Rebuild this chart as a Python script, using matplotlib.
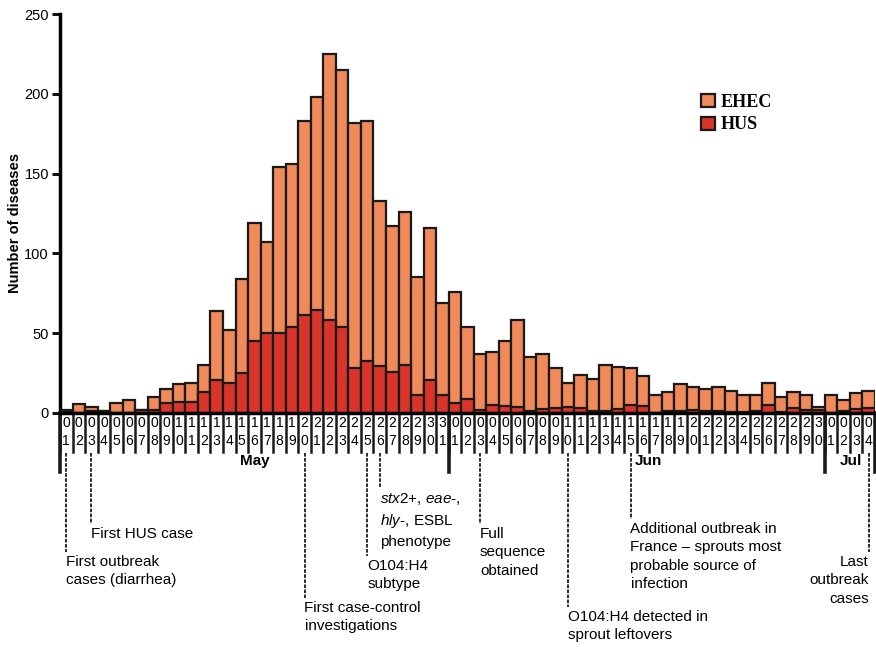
import numpy as np
import matplotlib.pyplot as plt
from matplotlib.patches import Patch
from matplotlib.transforms import blended_transform_factory

plt.rcParams['font.family'] = ['Liberation Sans', 'DejaVu Sans']
plt.rcParams['mathtext.fontset'] = 'custom'
plt.rcParams['mathtext.rm'] = 'Liberation Sans'
plt.rcParams['mathtext.it'] = 'Liberation Sans:italic'
plt.rcParams['mathtext.bf'] = 'Liberation Sans:bold'

# days May 1 .. Jul 4 (2011)
months = ['May', 'Jun', 'Jul']
month_lengths = [31, 30, 4]
days = [d for n in month_lengths for d in range(1, n + 1)]

ehec = [2, 5.5, 4, 1.5, 6.5, 8, 2, 10, 15, 18, 19, 30, 64, 52, 84, 119,
        107, 154, 156, 183, 198, 225, 215, 182, 183, 133, 117, 126, 85, 116, 69,
        76, 54, 37, 38, 45, 58, 35, 37, 28, 19, 24, 21, 30, 29, 28, 23,
        11, 13, 18, 16, 15, 16.5, 13.5, 11.5, 11.5, 18.5, 10, 13, 11, 4,
        11.5, 8, 12.5, 13.5]
hus = [1, 0, 1, 1, 0, 0, 2, 2, 6.5, 7, 7, 13, 20.5, 18.5, 25, 45,
       50, 50, 54, 61.5, 64.5, 58.5, 54, 28.5, 32.5, 29.5, 26, 30, 11.5, 20.5, 11.5,
       6.5, 9, 2, 5, 4.5, 3.5, 1.5, 2.5, 3, 3.5, 3, 1.5, 1.5, 2.5, 5, 4.5,
       0, 1, 1, 2, 1.5, 1.5, 0.5, 0.5, 1.5, 5, 0.5, 3, 2, 2,
       0, 1.5, 2.5, 3]

# timeline events: (day index, text)
events = [
    (0, 'First outbreak\ncases (diarrhea)'),
    (2, 'First HUS case'),
    (19, 'First case-control\ninvestigations'),
    (24, 'O104:H4\nsubtype'),
    (25, r'$\mathit{stx2}$+, $\mathit{eae}$-,' + '\n' + r'$\mathit{hly}$-, ESBL' + '\nphenotype'),
    (33, 'Full\nsequence\nobtained'),
    (40, 'O104:H4 detected in\nsprout leftovers'),
    (45, 'Additional outbreak in\nFrance \u2013 sprouts most\nprobable source of\ninfection'),
    (64, 'Last\noutbreak\ncases'),
]
event_line_end = [552, 524, 598, 556, 488, 524, 607, 519, 552]  # pixel rows

ehec_color = '#F08A5B'
hus_color = '#D8342A'

W, H = 876, 647
fig = plt.figure(figsize=(W / 100, H / 100), dpi=100)
ax = fig.add_axes([60 / W, (H - 413) / H, (875 - 60) / W, (413 - 14) / H])

x = np.arange(len(days))
ax.bar(x, ehec, width=1.0, color=ehec_color, edgecolor='#1a1a1a', linewidth=1.6, zorder=2)
ax.bar(x, hus, width=1.0, color=hus_color, edgecolor='#1a1a1a', linewidth=1.6, zorder=3)

ax.set_xlim(-0.5, len(days) - 0.5)
ax.set_ylim(0, 250)
ax.set_yticks(range(0, 251, 50))
ax.tick_params(axis='y', direction='out', length=6, width=2, labelsize=10.5, pad=2)
for s in ['top', 'right']:
    ax.spines[s].set_visible(False)
ax.spines['left'].set_linewidth(2.5)
ax.spines['bottom'].set_linewidth(2.5)
ax.spines['bottom'].set_zorder(4)

ax.set_xticks(x)
ax.set_xticklabels([f'{d // 10}\n{d % 10}' for d in days], fontsize=10, linespacing=1.42)
ax.tick_params(axis='x', length=0, pad=2)

ax.set_ylabel('Number of diseases', fontsize=10.5, fontweight='bold')
ax.yaxis.set_label_coords(-0.047, 0.476)

# pixel row -> axes fraction
def ya(ypx):
    return (413 - ypx) / 399

tr = blended_transform_factory(ax.transData, ax.transAxes)

# day cell separators
for b in np.arange(len(days) + 1) - 0.5:
    ax.plot([b, b], [ya(413), ya(452)], color='#1a1a1a', lw=1.8, transform=tr, clip_on=False)

# month boundaries
bounds = np.concatenate([[0], np.cumsum(month_lengths)]) - 0.5
for b in bounds:
    ax.plot([b, b], [ya(413), ya(472)], color='#1a1a1a', lw=2.6, transform=tr, clip_on=False)

month_label_x = [15, 46.4, 62.6]
for m, mx in zip(months, month_label_x):
    ax.text(mx, ya(461), m, transform=tr, ha='center', va='center',
            fontsize=11, fontweight='bold')

# event lines and texts
for (i, txt), yend in zip(events, event_line_end):
    ax.plot([i, i], [ya(453), ya(yend)], color='#1a1a1a', lw=1.3,
            linestyle=(0, (2, 0.8)), transform=tr, clip_on=False)
    if i == len(days) - 1:
        ax.text(i, ya(yend + 3), txt, transform=tr, ha='right', va='top',
                fontsize=11, linespacing=1.4, multialignment='right')
    else:
        ax.text(i, ya(yend + 3), txt, transform=tr, ha='left', va='top',
                fontsize=11, linespacing=1.4)

handles = [Patch(facecolor=ehec_color, edgecolor='#1a1a1a', lw=1.6, label='EHEC'),
           Patch(facecolor=hus_color, edgecolor='#1a1a1a', lw=1.6, label='HUS')]
fig.legend(handles=handles, loc='upper left', bbox_to_anchor=(701 / W, 1 - 94 / H),
           frameon=False, borderpad=0, borderaxespad=0, handlelength=0.75,
           handleheight=0.75, handletextpad=0.35, labelspacing=0.3,
           prop={'family': 'Liberation Serif', 'weight': 'bold', 'size': 13})

fig.savefig('out.png', dpi=100)
